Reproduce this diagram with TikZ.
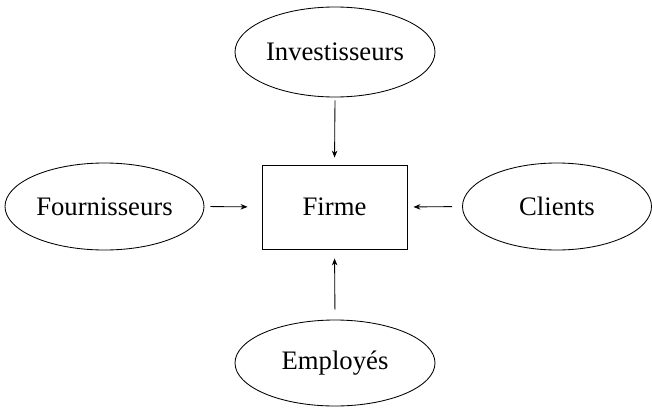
\documentclass[tikz,border=0pt]{standalone}
\usepackage{fontspec}
\setmainfont{Liberation Serif}
\usetikzlibrary{shapes.geometric,arrows.meta}
\begin{document}
\begin{tikzpicture}[x=1pt,y=-1pt,
  party/.style={ellipse,draw,line width=0.85pt,inner sep=0pt,font=\fontsize{26.7}{30}\selectfont},
  firm/.style={rectangle,draw,line width=0.85pt,inner sep=0pt,minimum width=145pt,minimum height=84pt,font=\fontsize{26.7}{30}\selectfont},
  flow/.style={line width=0.85pt,-{Stealth[length=7pt,width=5.5pt]}}]
\useasboundingbox (0,0) rectangle (652,407);
\node[firm] (f) at (334.5,207) {Firme};
\node[party,minimum width=200pt,minimum height=90pt] (inv) at (335,52) {Investisseurs};
\node[party,minimum width=199pt,minimum height=87pt] (four) at (104.5,206.5) {Fournisseurs};
\node[party,minimum width=189pt,minimum height=87pt] (cli) at (557,206.5) {Clients};
\node[party,minimum width=200pt,minimum height=86pt] (emp) at (335,363) {Employés};
\draw[flow,shorten <=3pt,shorten >=7pt] (inv.south) -- (f.north);
\draw[flow,shorten <=6pt,shorten >=14pt] (four.east) -- (f.west);
\draw[flow,shorten <=10pt,shorten >=6pt] (cli.west) -- (f.east);
\draw[flow,shorten <=10pt,shorten >=9pt] (emp.north) -- (f.south);
\end{tikzpicture}
\end{document}
